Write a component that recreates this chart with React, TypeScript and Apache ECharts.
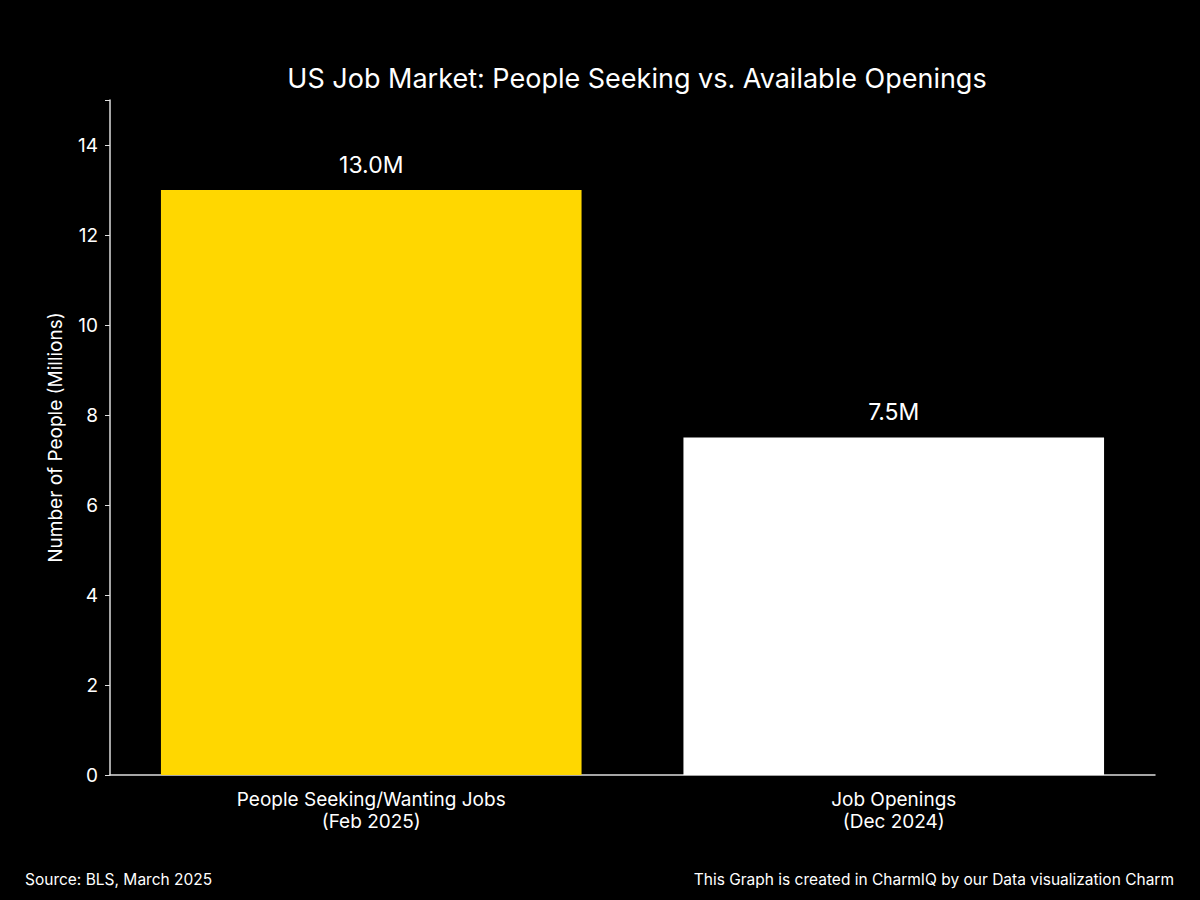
import React, { useEffect, useRef } from "react";
import * as echarts from "echarts";

const categories = ["People Seeking/Wanting Jobs\n(Feb 2025)", "Job Openings\n(Dec 2024)"];
const values = [13.0, 7.5];
const barColors = ["#FFD700", "#FFFFFF"];
const titleText = "US Job Market: People Seeking vs. Available Openings";
const yAxisName = "Number of People (Millions)";
const sourceText = "Source: BLS, March 2025";
const creditText = "This Graph is created in CharmIQ by our Data visualization Charm";

const FONT = "Inter, 'Open Sans', Roboto, sans-serif";

export default function App() {
  const ref = useRef<HTMLDivElement>(null);
  useEffect(() => {
    if (!ref.current) return;
    const chart = echarts.init(ref.current, null, { renderer: "svg" });
    chart.setOption({
      animation: false,
      backgroundColor: "#000000",
      textStyle: { fontFamily: FONT },
      title: {
        text: titleText,
        left: 632,
        textAlign: "center",
        top: 60,
        textStyle: { color: "#FFFFFF", fontSize: 27, fontWeight: "normal", fontFamily: FONT },
      },
      grid: { left: 110, right: 45, top: 100, bottom: 125, containLabel: false },
      xAxis: {
        type: "category",
        data: categories,
        axisLine: { lineStyle: { color: "#DDDDDD", width: 1.5 } },
        axisTick: { alignWithLabel: true, length: 5, lineStyle: { color: "#DDDDDD" } },
        axisLabel: { color: "#FFFFFF", fontSize: 19, lineHeight: 22, margin: 13, fontFamily: FONT },
      },
      yAxis: {
        type: "value",
        min: 0,
        max: 15,
        interval: 2,
        name: yAxisName,
        nameLocation: "middle",
        nameGap: 45,
        nameTextStyle: { color: "#FFFFFF", fontSize: 19, fontFamily: FONT },
        splitLine: { show: false },
        axisLine: { show: true, lineStyle: { color: "#DDDDDD", width: 1.5 } },
        axisTick: { show: true, length: 5, lineStyle: { color: "#DDDDDD" } },
        axisLabel: {
          color: "#FFFFFF",
          fontSize: 19,
          margin: 12,
          fontFamily: FONT,
          formatter: (v: number) => (v > 14 ? "" : String(v)),
        },
      },
      series: [
        {
          type: "bar",
          barWidth: "80.5%",
          data: values.map((v, i) => ({ value: v, itemStyle: { color: barColors[i] } })),
          label: {
            show: true,
            position: "top",
            distance: 14,
            color: "#FFFFFF",
            fontSize: 23,
            fontFamily: FONT,
            formatter: (p: any) => `${Number(p.value).toFixed(1)}M`,
          },
        },
      ],
      graphic: [
        {
          type: "text",
          left: 25,
          top: 871,
          style: { text: sourceText, fill: "#FFFFFF", fontSize: 15.5, fontFamily: FONT },
        },
        {
          type: "text",
          right: 26,
          top: 871,
          style: { text: creditText, fill: "#FFFFFF", fontSize: 15.5, fontFamily: FONT },
        },
      ],
    });
    return () => chart.dispose();
  }, []);
  return (
    <div
      ref={ref}
      style={{ position: "fixed", left: 0, top: 0, width: 1200, height: 900, background: "#000" }}
    />
  );
}
